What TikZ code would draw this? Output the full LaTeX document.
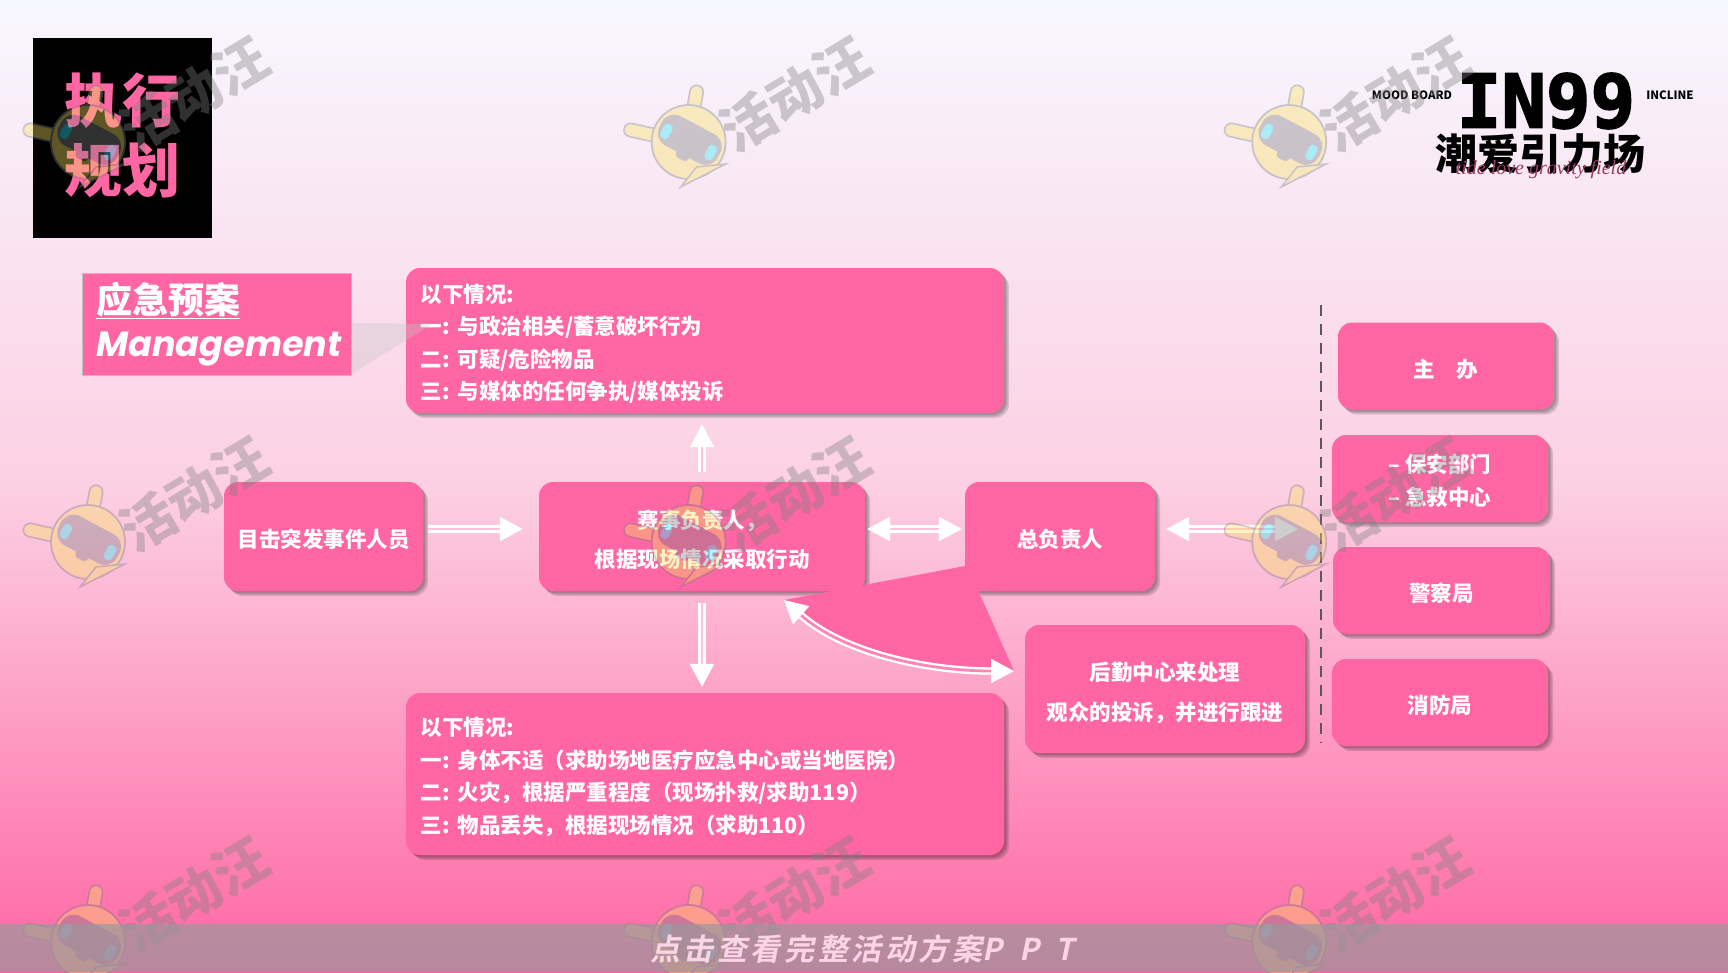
\documentclass[tikz,border=0pt]{standalone}
\usepackage{fontspec}
\setmainfont{Noto Sans CJK SC}
\newfontfamily\bandfont{Noto Sans CJK SC Bold}[FakeSlant=0.2,LetterSpace=12]
\newfontfamily\titlefont{Poppins}[BoldItalicFont=* Bold Italic]
\newfontfamily\logofont{DejaVu Sans Mono}[BoldFeatures={FakeBold=2.5}]
\newfontfamily\handfont{Liberation Serif}
\usetikzlibrary{arrows.meta, shadows}

\definecolor{boxpink}{HTML}{FF66A3}
\definecolor{gappink}{HTML}{FBC4DC}
\definecolor{bandgray}{HTML}{9A989C}
\definecolor{bandtext}{HTML}{FBD5E5}
\definecolor{markgray}{HTML}{808080}
\definecolor{markyellow}{HTML}{F8E460}
\definecolor{markcyan}{HTML}{2AEDF8}

\tikzset{
    softshadow/.style={drop shadow={shadow xshift=#1, shadow yshift=-#1, opacity=.13, fill=black}},
    pinkbox/.style={fill=boxpink, text=white, rounded corners=14pt, inner sep=0,
                    font=\fontsize{21.5}{32.5}\bfseries\selectfont, align=center,
                    softshadow=5pt, softshadow=3.5pt, softshadow=2pt,
                    execute at begin node=\rule{0pt}{24.5pt}},
    casebox/.style={pinkbox, align=left, text width=569pt},
    flowarrow/.style={draw=white, double=gappink, line width=2.3pt, double distance=2.8pt,
                    {Triangle[width=24pt,length=23pt,fill=white]}-{Triangle[width=24pt,length=23pt,fill=white]}},
    oneway/.style={flowarrow, -{Triangle[width=24pt,length=23pt,fill=white]}},
}

\begin{document}
\begin{tikzpicture}[x=1pt, y=-1pt]
                \useasboundingbox (0,0) rectangle (1728,972);
                \clip (0,0) rectangle (1728,972);
                \fill [top color=white!97!blue, bottom color=boxpink, middle color=gappink!80!white] (0,0) rectangle (1728,972);

                \node (tagbox) [fill=black, minimum width=179pt, minimum height=200pt, inner sep=0] at (122.5,138) {};
                \node (tagtext) [text=boxpink, align=center, inner sep=0, font=\fontsize{58}{70}\bfseries\selectfont] at (122.5,135) {执行\\规划};

                \node (headbox) [fill=boxpink, draw=gray!50, minimum width=269pt, minimum height=102pt, inner sep=0] at (217,324) {};
                \node (headcn) [text=white, inner sep=0, font=\fontsize{36}{36}\bfseries\selectfont] at (168,300) {应急预案};
                \node (heading) [text=white, inner sep=0, font=\titlefont\fontsize{35}{35}\bfseries\itshape\selectfont] at (219,349) {Management};
                \draw [white, line width=1.2pt] ([yshift=-1pt]headcn.south west) -- ([yshift=-1pt]headcn.south east);

                \node (topcase) [casebox, minimum width=598pt, minimum height=145pt] at (705,340.5) {以下情况:\\一:\kern8pt 与政治相关/蓄意破坏行为\\二:\kern8pt 可疑/危险物品\\三:\kern8pt 与媒体的任何争执/媒体投诉};
                \node (witness) [pinkbox, minimum width=199pt, minimum height=109pt] at (323.5,536.5) {目击突发事件人员};
                \node (marshal) [pinkbox, minimum width=326pt, minimum height=109pt,
                                 font=\fontsize{21.5}{39}\bfseries\selectfont] at (702,536.5) {\rule{0pt}{25pt}赛事负责人，\\根据现场情况采取行动};
                \node (chief) [pinkbox, minimum width=190pt, minimum height=109pt] at (1060,536.5) {总负责人};
                \node (lowcase) [casebox, minimum width=598pt, minimum height=162pt] at (705,774) {以下情况:\\一:\kern8pt 身体不适（求助场地医疗应急中心或当地医院）\\二:\kern8pt 火灾，根据严重程度（现场扑救/求助119）\\三:\kern8pt 物品丢失，根据现场情况（求助110）};
                \node (logistics) [pinkbox, minimum width=280pt, minimum height=128pt,
                                   font=\fontsize{21.5}{40}\bfseries\selectfont] at (1165,689) {\rule{0pt}{26.5pt}后勤中心来处理\\观众的投诉，并进行跟进};

                \node (host) [pinkbox, minimum width=216pt, minimum height=87pt] at (1446,366) {主\quad 办};
                \node (guards) [pinkbox, minimum width=216pt, minimum height=87pt] at (1440,478.5) {\rule{0pt}{23pt}– 保安部门\\– 急救中心};
                \node (police) [pinkbox, minimum width=217pt, minimum height=87pt] at (1441.5,590.5) {警察局};
                \node (fire) [pinkbox, minimum width=216pt, minimum height=87pt] at (1440,702.5) {消防局};

                \coordinate (dashtop) at (1321,305);
                \coordinate (dashbot) at (1321,743);
                \coordinate (dashmid) at (1321,529);
                \coordinate (curveA) at (784,600);
                \coordinate (curveB) at (1014,671);

                \fill [boxpink] (965,566) -- (curveA) .. controls (840,650) and (920,671) .. (curveB) -- (978,590) -- cycle;
                \fill [gray!45, opacity=.35] (headbox.east |- 0,323) -- (432,324) -- (headbox.east |- 0,374) -- cycle;

                \draw [dash pattern=on 11pt off 8pt, draw=black!65, line width=2.6pt] (dashtop) -- (dashbot);

                \draw [oneway, shorten <=5pt, shorten >=16pt] ([yshift=7.5pt]witness.east) -- ([yshift=7.5pt]marshal.west);
                \draw [flowarrow, shorten <=2pt, shorten >=3pt] ([yshift=7.5pt]marshal.east) -- ([yshift=7.5pt]chief.west);
                \draw [flowarrow, shorten <=11pt, shorten >=23pt] ([yshift=7.5pt]chief.east) -- (dashmid);
                \draw [oneway, shorten <=10pt, shorten >=11pt] (marshal.north) -- (marshal.north |- topcase.south);
                \draw [oneway, shorten <=12pt, shorten >=6pt] (marshal.south) -- (marshal.south |- lowcase.north);
                \draw [flowarrow, double=boxpink!80!white] (curveA) .. controls (840,650) and (920,671) .. (curveB);

                \node (logo) [inner sep=0, font=\logofont\fontsize{74}{74}\bfseries\selectfont] at (1546,101) {IN99};
                \node (logocn) [inner sep=0, font=\fontsize{42}{42}\bfseries\selectfont] at (1540,154) {潮爱引力场};
                \node (logoscript) [inner sep=0, text=boxpink!60!black, font=\handfont\fontsize{20}{20}\itshape\selectfont] at (1541,170) {tide love gravity field};
                \node (mood) [inner sep=0, font=\fontsize{11.5}{12}\bfseries\selectfont] at (1412,95) {MOOD BOARD};
                \node (incline) [inner sep=0, font=\fontsize{11.5}{12}\bfseries\selectfont] at (1670,95) {INCLINE};

                \foreach \col in {0,1,2}
                    \foreach \row in {0,1,2} {
                        \begin{scope}[shift={(88+600.6*\col,142+400*\row)}, transparency group, opacity=.38]
                            \draw [markgray, line width=15pt, line cap=round] (-58,-12) -- (-22,-4) (8,-50) -- (3,-22);
                            \draw [markyellow, line width=11.5pt, line cap=round] (-58,-12) -- (-22,-4) (8,-50) -- (3,-22);
                            \draw [markgray, fill=markyellow, line width=1.8pt] (0,0) circle [radius=37];
                            \draw [markgray, fill=markyellow, line width=1.5pt] (-8,45) -- (37,22) -- (8,25) -- cycle;
                            \fill [markgray, rotate=-28, rounded corners=14pt] (-33,-19) rectangle (33,14);
                            \fill [markcyan, rotate=-28, rounded corners=4pt] (-29,-7) rectangle (-20,9);
                            \fill [markcyan, rotate=-28, rounded corners=4pt] (20,-9) rectangle (29,7);
                            \fill [markgray, rotate=-28, rounded corners=4pt] (-6,10) rectangle (8,19);
                            \node (wm\col\row) [text=markgray, inner sep=0, rotate=31,
                                                font=\fontsize{54}{54}\bfseries\selectfont] at (106,-48) {活动汪};
                        \end{scope}
                    }

                \fill [bandgray, opacity=.7] (0,924) rectangle (1728,972);
                \node (bandlabel) [inner sep=0, text=bandtext, font=\bandfont\fontsize{30}{30}\selectfont] at (862,949) {点击查看完整活动方案{\addfontfeatures{LetterSpace=55}PPT}};
            \end{tikzpicture}
\end{document}
